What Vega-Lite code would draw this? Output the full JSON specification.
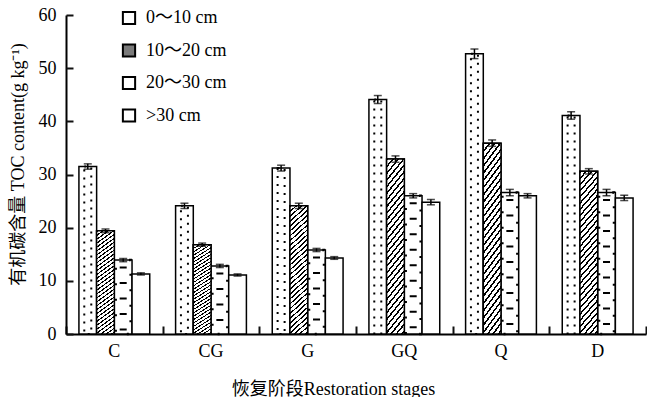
{
  "$schema": "https://vega.github.io/schema/vega-lite/v6.json",
  "width": 580,
  "height": 319,
  "autosize": {"type": "none"},
  "padding": {"left": 66, "top": 15, "right": 1, "bottom": 63},
  "config": {
    "view": {"stroke": null},
    "font": "Liberation Serif, Noto Sans CJK SC",
    "axis": {
      "domainColor": "black",
      "domainWidth": 2,
      "labelColor": "black",
      "titleColor": "black",
      "labelFont": "Liberation Serif, Noto Sans CJK SC",
      "titleFont": "Liberation Serif, Noto Sans CJK SC",
      "labelFontSize": 18,
      "titleFontSize": 18,
      "titleFontWeight": "normal",
      "grid": false
    },
    "legend": {
      "labelFont": "Liberation Serif, Noto Sans CJK SC",
      "labelFontSize": 18,
      "labelColor": "black"
    }
  },
  "resolve": {"axis": {"x": "independent", "y": "independent"}},
  "data": {
    "values": [
      {"stage": "C", "depth": "0～10 cm", "value": 31.5, "err": 0.5},
      {"stage": "C", "depth": "10～20 cm", "value": 19.4, "err": 0.35},
      {"stage": "C", "depth": "20～30 cm", "value": 13.9, "err": 0.3},
      {"stage": "C", "depth": ">30 cm", "value": 11.3, "err": 0.2},
      {"stage": "CG", "depth": "0～10 cm", "value": 24.1, "err": 0.5},
      {"stage": "CG", "depth": "10～20 cm", "value": 16.8, "err": 0.3},
      {"stage": "CG", "depth": "20～30 cm", "value": 12.8, "err": 0.3},
      {"stage": "CG", "depth": ">30 cm", "value": 11.1, "err": 0.2},
      {"stage": "G", "depth": "0～10 cm", "value": 31.2, "err": 0.55},
      {"stage": "G", "depth": "10～20 cm", "value": 24.1, "err": 0.5},
      {"stage": "G", "depth": "20～30 cm", "value": 15.8, "err": 0.3},
      {"stage": "G", "depth": ">30 cm", "value": 14.3, "err": 0.25},
      {"stage": "GQ", "depth": "0～10 cm", "value": 44.1, "err": 0.75},
      {"stage": "GQ", "depth": "10～20 cm", "value": 32.9, "err": 0.6},
      {"stage": "GQ", "depth": "20～30 cm", "value": 26.0, "err": 0.4},
      {"stage": "GQ", "depth": ">30 cm", "value": 24.8, "err": 0.5},
      {"stage": "Q", "depth": "0～10 cm", "value": 52.7, "err": 0.9},
      {"stage": "Q", "depth": "10～20 cm", "value": 35.9, "err": 0.6},
      {"stage": "Q", "depth": "20～30 cm", "value": 26.6, "err": 0.6},
      {"stage": "Q", "depth": ">30 cm", "value": 26.0, "err": 0.4},
      {"stage": "D", "depth": "0～10 cm", "value": 41.1, "err": 0.7},
      {"stage": "D", "depth": "10～20 cm", "value": 30.6, "err": 0.5},
      {"stage": "D", "depth": "20～30 cm", "value": 26.6, "err": 0.6},
      {"stage": "D", "depth": ">30 cm", "value": 25.6, "err": 0.5}
    ]
  },
  "layer": [
    {
      "mark": {"type": "bar", "stroke": "black", "strokeWidth": 1.5},
      "encoding": {
        "x": {
          "field": "stage", "type": "nominal",
          "scale": {"domain": ["C", "CG", "G", "GQ", "Q", "D"], "paddingInner": 0, "paddingOuter": 0},
          "axis": {
            "title": "恢复阶段Restoration stages",
            "orient": "bottom",
            "labelAngle": 0,
            "ticks": false,
            "labelPadding": 8,
            "titleX": 267,
            "titleY": 55,
            "titleBaseline": "middle",
            "titleAlign": "center"
          }
        },
        "xOffset": {
          "field": "depth", "type": "nominal",
          "scale": {"domain": ["0～10 cm", "10～20 cm", "20～30 cm", ">30 cm"], "paddingInner": 0, "paddingOuter": 0.73}
        },
        "y": {
          "field": "value", "type": "quantitative",
          "scale": {"domain": [0, 60], "nice": false},
          "axis": {
            "title": "有机碳含量 TOC content(g kg⁻¹)",
            "orient": "left",
            "values": [0, 10, 20, 30, 40, 50, 60],
            "ticks": false,
            "labelPadding": 10,
            "titleX": -48,
            "titleY": 149,
            "titleBaseline": "middle",
            "titleAlign": "center"
          }
        },
        "fill": {
          "field": "depth", "type": "nominal",
          "scale": {
            "domain": ["0～10 cm", "10～20 cm", "20～30 cm", ">30 cm"],
            "range": ["#ffffff", "#7a7a7a", "#ffffff", "#ffffff"]
          },
          "legend": {
            "title": null,
            "orient": "none",
            "legendX": 54,
            "legendY": -6,
            "padding": 0,
            "symbolType": "square",
            "symbolSize": 150,
            "symbolStrokeColor": "black",
            "symbolStrokeWidth": 2,
            "labelFont": "Liberation Serif, Noto Sans CJK SC",
            "labelFontSize": 18,
            "labelOffset": 8,
            "rowPadding": 10.5
          }
        }
      }
    },
    {
      "transform": [{"filter": "datum.depth === '10～20 cm'"}],
      "mark": {"type": "bar", "stroke": "black", "strokeWidth": 1.5,
        "fill": {"gradient": "linear", "x1": 0, "y1": 0, "x2": 0.14, "y2": 1.12, "stops": [
                {"offset": 0, "color": "#000"}, {"offset": 0.0117, "color": "#000"}, {"offset": 0.0117, "color": "#fff"}, {"offset": 0.0333, "color": "#fff"},
                {"offset": 0.0333, "color": "#000"}, {"offset": 0.045, "color": "#000"}, {"offset": 0.045, "color": "#fff"}, {"offset": 0.0667, "color": "#fff"},
                {"offset": 0.0667, "color": "#000"}, {"offset": 0.0784, "color": "#000"}, {"offset": 0.0784, "color": "#fff"}, {"offset": 0.1, "color": "#fff"},
                {"offset": 0.1, "color": "#000"}, {"offset": 0.1117, "color": "#000"}, {"offset": 0.1117, "color": "#fff"}, {"offset": 0.1333, "color": "#fff"},
                {"offset": 0.1333, "color": "#000"}, {"offset": 0.145, "color": "#000"}, {"offset": 0.145, "color": "#fff"}, {"offset": 0.1667, "color": "#fff"},
                {"offset": 0.1667, "color": "#000"}, {"offset": 0.1784, "color": "#000"}, {"offset": 0.1784, "color": "#fff"}, {"offset": 0.2, "color": "#fff"},
                {"offset": 0.2, "color": "#000"}, {"offset": 0.2117, "color": "#000"}, {"offset": 0.2117, "color": "#fff"}, {"offset": 0.2333, "color": "#fff"},
                {"offset": 0.2333, "color": "#000"}, {"offset": 0.245, "color": "#000"}, {"offset": 0.245, "color": "#fff"}, {"offset": 0.2667, "color": "#fff"},
                {"offset": 0.2667, "color": "#000"}, {"offset": 0.2784, "color": "#000"}, {"offset": 0.2784, "color": "#fff"}, {"offset": 0.3, "color": "#fff"},
                {"offset": 0.3, "color": "#000"}, {"offset": 0.3117, "color": "#000"}, {"offset": 0.3117, "color": "#fff"}, {"offset": 0.3333, "color": "#fff"},
                {"offset": 0.3333, "color": "#000"}, {"offset": 0.345, "color": "#000"}, {"offset": 0.345, "color": "#fff"}, {"offset": 0.3667, "color": "#fff"},
                {"offset": 0.3667, "color": "#000"}, {"offset": 0.3784, "color": "#000"}, {"offset": 0.3784, "color": "#fff"}, {"offset": 0.4, "color": "#fff"},
                {"offset": 0.4, "color": "#000"}, {"offset": 0.4117, "color": "#000"}, {"offset": 0.4117, "color": "#fff"}, {"offset": 0.4333, "color": "#fff"},
                {"offset": 0.4333, "color": "#000"}, {"offset": 0.445, "color": "#000"}, {"offset": 0.445, "color": "#fff"}, {"offset": 0.4667, "color": "#fff"},
                {"offset": 0.4667, "color": "#000"}, {"offset": 0.4784, "color": "#000"}, {"offset": 0.4784, "color": "#fff"}, {"offset": 0.5, "color": "#fff"},
                {"offset": 0.5, "color": "#000"}, {"offset": 0.5117, "color": "#000"}, {"offset": 0.5117, "color": "#fff"}, {"offset": 0.5333, "color": "#fff"},
                {"offset": 0.5333, "color": "#000"}, {"offset": 0.545, "color": "#000"}, {"offset": 0.545, "color": "#fff"}, {"offset": 0.5667, "color": "#fff"},
                {"offset": 0.5667, "color": "#000"}, {"offset": 0.5784, "color": "#000"}, {"offset": 0.5784, "color": "#fff"}, {"offset": 0.6, "color": "#fff"},
                {"offset": 0.6, "color": "#000"}, {"offset": 0.6117, "color": "#000"}, {"offset": 0.6117, "color": "#fff"}, {"offset": 0.6333, "color": "#fff"},
                {"offset": 0.6333, "color": "#000"}, {"offset": 0.645, "color": "#000"}, {"offset": 0.645, "color": "#fff"}, {"offset": 0.6667, "color": "#fff"},
                {"offset": 0.6667, "color": "#000"}, {"offset": 0.6784, "color": "#000"}, {"offset": 0.6784, "color": "#fff"}, {"offset": 0.7, "color": "#fff"},
                {"offset": 0.7, "color": "#000"}, {"offset": 0.7117, "color": "#000"}, {"offset": 0.7117, "color": "#fff"}, {"offset": 0.7333, "color": "#fff"},
                {"offset": 0.7333, "color": "#000"}, {"offset": 0.745, "color": "#000"}, {"offset": 0.745, "color": "#fff"}, {"offset": 0.7667, "color": "#fff"},
                {"offset": 0.7667, "color": "#000"}, {"offset": 0.7784, "color": "#000"}, {"offset": 0.7784, "color": "#fff"}, {"offset": 0.8, "color": "#fff"},
                {"offset": 0.8, "color": "#000"}, {"offset": 0.8117, "color": "#000"}, {"offset": 0.8117, "color": "#fff"}, {"offset": 0.8333, "color": "#fff"},
                {"offset": 0.8333, "color": "#000"}, {"offset": 0.845, "color": "#000"}, {"offset": 0.845, "color": "#fff"}, {"offset": 0.8667, "color": "#fff"},
                {"offset": 0.8667, "color": "#000"}, {"offset": 0.8784, "color": "#000"}, {"offset": 0.8784, "color": "#fff"}, {"offset": 0.9, "color": "#fff"},
                {"offset": 0.9, "color": "#000"}, {"offset": 0.9117, "color": "#000"}, {"offset": 0.9117, "color": "#fff"}, {"offset": 0.9333, "color": "#fff"},
                {"offset": 0.9333, "color": "#000"}, {"offset": 0.945, "color": "#000"}, {"offset": 0.945, "color": "#fff"}, {"offset": 0.9667, "color": "#fff"},
                {"offset": 0.9667, "color": "#000"}, {"offset": 0.9784, "color": "#000"}, {"offset": 0.9784, "color": "#fff"}, {"offset": 1, "color": "#fff"}
        ]}
      },
      "encoding": {
        "x": {"field": "stage", "type": "nominal", "axis": null},
        "xOffset": {"field": "depth", "type": "nominal"},
        "y": {"field": "value", "type": "quantitative", "axis": null}
      }
    },
    {
      "transform": [{"filter": "datum.depth === '0～10 cm'"}],
      "mark": {"type": "bar", "width": 7, "filled": false, "stroke": "black", "strokeWidth": 2, "strokeDash": [2, 6], "strokeCap": "butt"},
      "encoding": {
        "x": {"field": "stage", "type": "nominal",
          "axis": {"orient": "top", "offset": -319, "labels": true, "labelOpacity": 0, "domain": false, "title": null, "ticks": true, "tickBand": "extent", "tickSize": 8, "tickColor": "#111111", "tickWidth": 2}},
        "xOffset": {"field": "depth", "type": "nominal"},
        "y": {"field": "value", "type": "quantitative",
          "axis": {"orient": "right", "offset": -580, "labels": true, "labelOpacity": 0, "domain": false, "title": null, "ticks": true, "tickSize": 7, "tickColor": "#111111", "tickWidth": 2, "values": [0, 10, 20, 30, 40, 50, 60]}}
      }
    },
    {
      "transform": [{"filter": "datum.depth === '20～30 cm'"}],
      "mark": {"type": "rule", "color": "black", "strokeWidth": 7, "strokeDash": [2, 13.5], "strokeDashOffset": 9, "strokeCap": "butt"},
      "encoding": {
        "x": {"field": "stage", "type": "nominal", "axis": null},
        "xOffset": {"field": "depth", "type": "nominal"},
        "y": {"field": "value", "type": "quantitative", "axis": null},
        "y2": {"datum": 0}
      }
    },
    {
      "transform": [{"filter": "datum.depth === '20～30 cm'"}],
      "mark": {"type": "bar", "width": 15, "filled": false, "stroke": "black", "strokeWidth": 2.5, "strokeDash": [2, 13.5], "strokeDashOffset": 2.25, "strokeCap": "butt"},
      "encoding": {
        "x": {"field": "stage", "type": "nominal", "axis": null},
        "xOffset": {"field": "depth", "type": "nominal"},
        "y": {"field": "value", "type": "quantitative", "axis": null}
      }
    },
    {
      "mark": {"type": "errorbar", "color": "black", "size": 8, "thickness": 1.5, "ticks": true},
      "encoding": {
        "x": {"field": "stage", "type": "nominal", "axis": null},
        "xOffset": {"field": "depth", "type": "nominal"},
        "y": {"field": "value", "type": "quantitative", "axis": null},
        "yError": {"field": "err"}
      }
    }
  ]
}
